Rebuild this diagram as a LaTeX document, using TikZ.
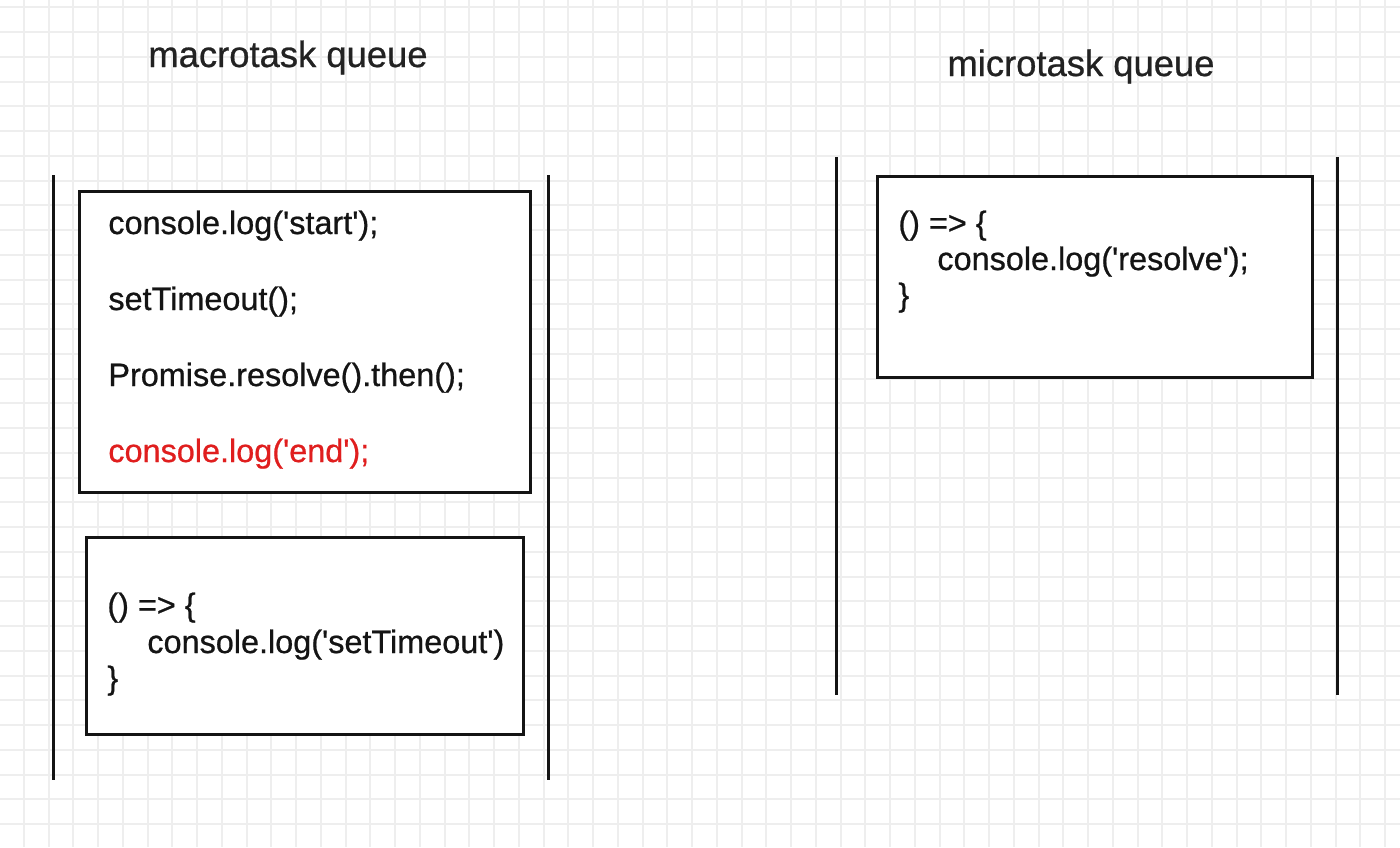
\documentclass[tikz,border=0pt]{standalone}
\usepackage{fontspec}
\setmainfont{Liberation Sans}
\newfontfamily\codefont[FakeBold=0.7]{Liberation Sans}
\definecolor{gridc}{RGB}{238,238,238}
\definecolor{ink}{RGB}{20,20,20}
\definecolor{titleink}{RGB}{34,34,34}
\definecolor{redink}{RGB}{224,30,30}
\newcommand{\q}{\textquotesingle}
\tikzset{
  queueline/.style={draw=ink, line width=1.5pt},
  codebox/.style={draw=ink, line width=1.5pt, fill=white, rectangle, inner sep=0pt},
  code/.style={anchor=base west, inner sep=0pt, text=ink, font=\codefont\fontsize{16.2}{20}\selectfont},
  title/.style={anchor=base, inner sep=0pt, text=titleink, font=\codefont\fontsize{18.2}{22}\selectfont},
}
\begin{document}
\begin{tikzpicture}[x=0.5pt, y=-0.5pt]
\useasboundingbox (0,0) rectangle (1400,847);
\fill[white] (0,0) rectangle (1400,847);
% grid
\foreach \i in {0,...,57} {
  \draw[gridc, line width=1pt] ({-1+24.75*\i},0) -- ({-1+24.75*\i},847);
}
\foreach \j in {0,...,34} {
  \draw[gridc, line width=1pt] (0,{7.3+24.75*\j}) -- (1400,{7.3+24.75*\j});
}
% titles
\node[title] (tmacro) at (288,67) {macrotask queue};
\node[title] (tmicro) at (1081,76) {microtask queue};
% queue walls
\coordinate (l1t) at (53,175); \coordinate (l1b) at (53,780);
\coordinate (l2t) at (548,175); \coordinate (l2b) at (548,780);
\coordinate (r1t) at (836,157); \coordinate (r1b) at (836,695);
\coordinate (r2t) at (1337,157); \coordinate (r2b) at (1337,695);
\draw[queueline] (l1t) -- (l1b);
\draw[queueline] (l2t) -- (l2b);
\draw[queueline] (r1t) -- (r1b);
\draw[queueline] (r2t) -- (r2b);
% boxes
\node[codebox, minimum width=225.5pt, minimum height=150.5pt] (box1) at (304.5,341.5) {};
\node[codebox, minimum width=218.5pt, minimum height=98.5pt] (box2) at (304.5,635.5) {};
\node[codebox, minimum width=217.5pt, minimum height=100.5pt] (box3) at (1094.5,276.5) {};
% box1 text
\node[code] (c1) at (108,234) {console.log(\q start\q);};
\node[code] (c2) at (108,310) {setTimeout();};
\node[code] (c3) at (108,386) {Promise.resolve().then();};
\node[code, text=redink] (c4) at (108,462) {console.log(\q end\q);};
% box2 text
\node[code] (s1) at (107,616) {() => \{};
\node[code] (s2) at (147,653) {console.log(\q setTimeout\q)};
\node[code] (s3) at (107,689) {\}};
% box3 text
\node[code] (m1) at (898,234) {() => \{};
\node[code] (m2) at (937,270) {console.log(\q resolve\q);};
\node[code] (m3) at (898,306) {\}};
\end{tikzpicture}
\end{document}
